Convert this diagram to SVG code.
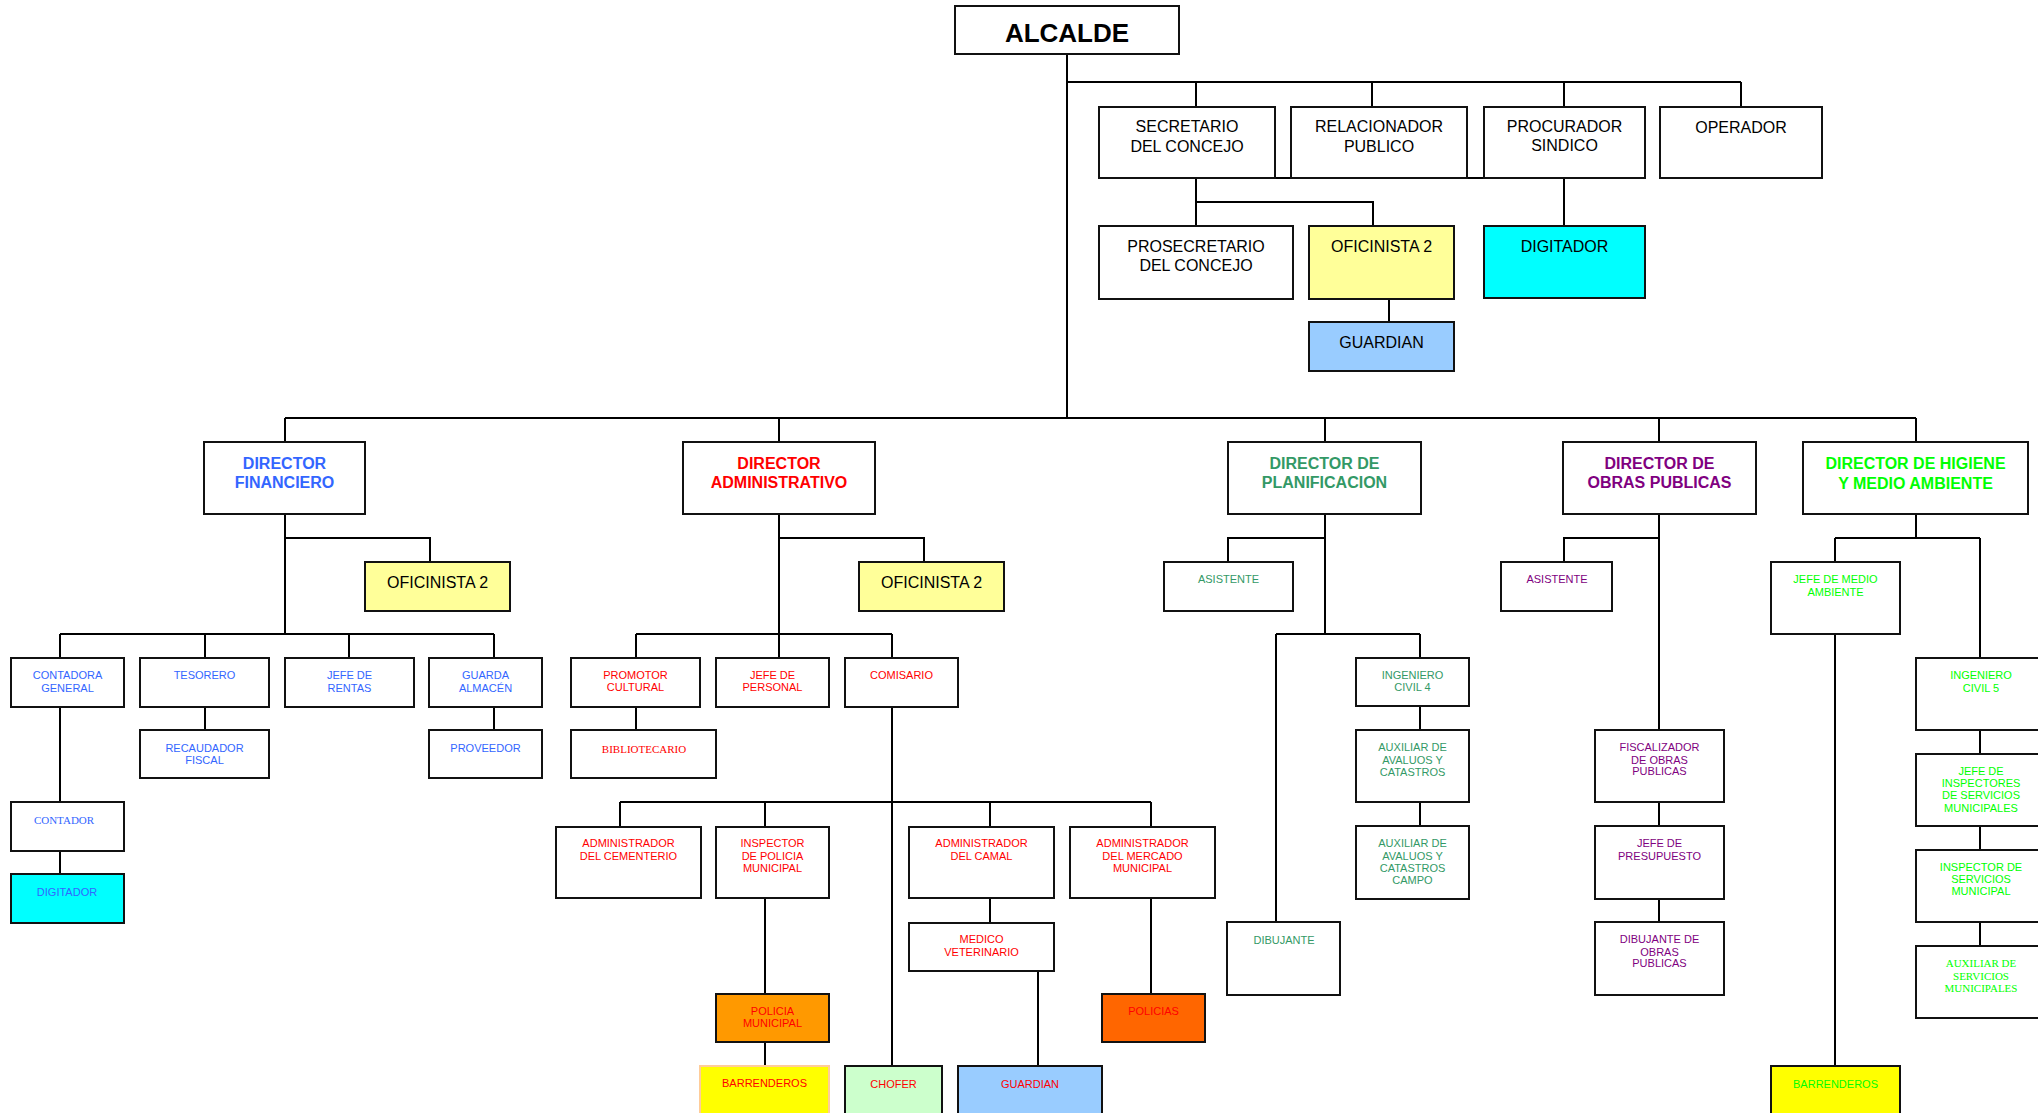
<svg xmlns="http://www.w3.org/2000/svg" width="2038" height="1113" viewBox="0 0 2038 1113">
<style>
rect{stroke:#111;stroke-width:2;fill:#fff}
.y{fill:#FFFF99}.c{fill:#00FFFF}.lb{fill:#99CCFF}.or{fill:#FF9900}.dor{fill:#FF6600}.ye{fill:#FFFF00}.lg{fill:#CCFFCC}
text{font-family:"Liberation Sans",Arial,sans-serif;text-anchor:middle}
.t{font-size:16px;fill:#000}
.d{font-size:16px;font-weight:bold}
.s{font-size:11px}
.sr{font-family:"Liberation Serif","Times New Roman",serif;font-size:11px}
.fin{fill:#3366FF}.adm{fill:#FF0000}.pla{fill:#339966}.obr{fill:#800080}.hig{fill:#00FF00}
#connectors path{stroke:#000;stroke-width:2;fill:none}
</style>
<rect x="0" y="0" width="2038" height="1113" style="fill:#fff;stroke:none"/>
<g id="connectors">
<path d="M1067 54V418M1067 82H1741M1196 82V107M1372 82V107M1564 82V107M1741 82V107M1275 178H1484M1196 178V226M1196 202H1373V226M1389 299V322M1564 178V226"/>
<path d="M285 418H1916M285 418V442M779 418V442M1325 418V442M1659 418V442M1916 418V442"/>
<path d="M285 514V634M285 538H430V562M60 634H494M60 634V658M205 634V658M349 634V658M494 634V658M205 707V730M494 707V730M60 707V802M60 851V874"/>
<path d="M779 514V634M779 538H924V562M636 634H892M636 634V658M779 634V658M892 634V658M636 707V730M892 707V1066M620 802H1151M620 802V827M765 802V827M990 802V827M1151 802V827M765 898V994M765 1042V1066M990 898V923M1038 971V1066M1151 898V994"/>
<path d="M1325 514V634M1325 538H1228V562M1276 634H1420M1276 634V922M1420 634V658M1420 706V730M1420 802V826"/>
<path d="M1659 514V730M1659 538H1564V562M1659 802V826M1659 899V922"/>
<path d="M1916 514V538M1835 538H1980M1835 538V562M1980 538V658M1835 634V1066M1980 730V754M1980 826V850M1980 922V946"/>
</g>
<g id="alcalde"><rect x="955" y="6" width="224" height="48"/><text x="1067" y="42" style="font-size:26px;font-weight:bold">ALCALDE</text></g>
<g id="secretario"><rect x="1099" y="107" width="176" height="71"/><text class="t" x="1187" y="132">SECRETARIO</text><text class="t" x="1187" y="152">DEL CONCEJO</text></g>
<g id="relacionador"><rect x="1291" y="107" width="176" height="71"/><text class="t" x="1379" y="132">RELACIONADOR</text><text class="t" x="1379" y="152">PUBLICO</text></g>
<g id="procurador"><rect x="1484" y="107" width="161" height="71"/><text class="t" x="1564.5" y="132">PROCURADOR</text><text class="t" x="1564.5" y="151">SINDICO</text></g>
<g id="operador"><rect x="1660" y="107" width="162" height="71"/><text class="t" x="1741" y="133">OPERADOR</text></g>
<g id="prosecretario"><rect x="1099" y="226" width="194" height="73"/><text class="t" x="1196" y="252">PROSECRETARIO</text><text class="t" x="1196" y="271">DEL CONCEJO</text></g>
<g id="oficinista-sec"><rect class="y" x="1309" y="226" width="145" height="73"/><text class="t" x="1381.5" y="252">OFICINISTA 2</text></g>
<g id="guardian-sec"><rect class="lb" x="1309" y="322" width="145" height="49"/><text class="t" x="1381.5" y="348">GUARDIAN</text></g>
<g id="digitador-proc"><rect class="c" x="1484" y="226" width="161" height="72"/><text class="t" x="1564.5" y="252">DIGITADOR</text></g>

<g id="dir-financiero"><rect x="204" y="442" width="161" height="72"/><text class="d fin" x="284.5" y="469">DIRECTOR</text><text class="d fin" x="284.5" y="488">FINANCIERO</text></g>
<g id="dir-administrativo"><rect x="683" y="442" width="192" height="72"/><text class="d adm" x="779" y="469">DIRECTOR</text><text class="d adm" x="779" y="488">ADMINISTRATIVO</text></g>
<g id="dir-planificacion"><rect x="1228" y="442" width="193" height="72"/><text class="d pla" x="1324.5" y="469">DIRECTOR DE</text><text class="d pla" x="1324.5" y="488">PLANIFICACION</text></g>
<g id="dir-obras"><rect x="1563" y="442" width="193" height="72"/><text class="d obr" x="1659.5" y="469">DIRECTOR DE</text><text class="d obr" x="1659.5" y="488">OBRAS PUBLICAS</text></g>
<g id="dir-higiene"><rect x="1803" y="442" width="225" height="72"/><text class="d hig" x="1915.5" y="469">DIRECTOR DE HIGIENE</text><text class="d hig" x="1915.5" y="489">Y MEDIO AMBIENTE</text></g>

<g id="oficinista-fin"><rect class="y" x="365" y="562" width="145" height="49"/><text class="t" x="437.5" y="588">OFICINISTA 2</text></g>
<g id="contadora"><rect x="11" y="658" width="113" height="49"/><text class="s fin" x="67.5" y="679">CONTADORA</text><text class="s fin" x="67.5" y="692">GENERAL</text></g>
<g id="tesorero"><rect x="140" y="658" width="129" height="49"/><text class="s fin" x="204.5" y="679">TESORERO</text></g>
<g id="jefe-rentas"><rect x="285" y="658" width="129" height="49"/><text class="s fin" x="349.5" y="679">JEFE DE</text><text class="s fin" x="349.5" y="692">RENTAS</text></g>
<g id="guarda-almacen"><rect x="429" y="658" width="113" height="49"/><text class="s fin" x="485.5" y="679">GUARDA</text><text class="s fin" x="485.5" y="692">ALMACÉN</text></g>
<g id="recaudador"><rect x="140" y="730" width="129" height="48"/><text class="s fin" x="204.5" y="752">RECAUDADOR</text><text class="s fin" x="204.5" y="764">FISCAL</text></g>
<g id="proveedor"><rect x="429" y="730" width="113" height="48"/><text class="s fin" x="485.5" y="752">PROVEEDOR</text></g>
<g id="contador"><rect x="11" y="802" width="113" height="49"/><text class="sr fin" x="64" y="824">CONTADOR</text></g>
<g id="digitador-fin"><rect class="c" x="11" y="874" width="113" height="49"/><text class="s fin" x="67" y="896">DIGITADOR</text></g>

<g id="oficinista-adm"><rect class="y" x="859" y="562" width="145" height="49"/><text class="t" x="931.5" y="588">OFICINISTA 2</text></g>
<g id="promotor"><rect x="571" y="658" width="129" height="49"/><text class="s adm" x="635.5" y="679">PROMOTOR</text><text class="s adm" x="635.5" y="691">CULTURAL</text></g>
<g id="jefe-personal"><rect x="716" y="658" width="113" height="49"/><text class="s adm" x="772.5" y="679">JEFE DE</text><text class="s adm" x="772.5" y="691">PERSONAL</text></g>
<g id="comisario"><rect x="845" y="658" width="113" height="49"/><text class="s adm" x="901.5" y="679">COMISARIO</text></g>
<g id="bibliotecario"><rect x="571" y="730" width="145" height="48"/><text class="sr adm" x="644" y="753">BIBLIOTECARIO</text></g>
<g id="adm-cementerio"><rect x="556" y="827" width="145" height="71"/><text class="s adm" x="628.5" y="847">ADMINISTRADOR</text><text class="s adm" x="628.5" y="860">DEL CEMENTERIO</text></g>
<g id="inspector-policia"><rect x="716" y="827" width="113" height="71"/><text class="s adm" x="772.5" y="847">INSPECTOR</text><text class="s adm" x="772.5" y="859.5">DE POLICIA</text><text class="s adm" x="772.5" y="872">MUNICIPAL</text></g>
<g id="adm-camal"><rect x="909" y="827" width="145" height="71"/><text class="s adm" x="981.5" y="847">ADMINISTRADOR</text><text class="s adm" x="981.5" y="860">DEL CAMAL</text></g>
<g id="adm-mercado"><rect x="1070" y="827" width="145" height="71"/><text class="s adm" x="1142.5" y="847">ADMINISTRADOR</text><text class="s adm" x="1142.5" y="859.5">DEL MERCADO</text><text class="s adm" x="1142.5" y="872">MUNICIPAL</text></g>
<g id="medico"><rect x="909" y="923" width="145" height="48"/><text class="s adm" x="981.5" y="943">MEDICO</text><text class="s adm" x="981.5" y="956">VETERINARIO</text></g>
<g id="policia-municipal"><rect class="or" x="716" y="994" width="113" height="48"/><text class="s adm" x="772.5" y="1015">POLICIA</text><text class="s adm" x="772.5" y="1027">MUNICIPAL</text></g>
<g id="policias"><rect class="dor" x="1102" y="994" width="103" height="48"/><text class="s adm" x="1153.5" y="1015">POLICIAS</text></g>
<g id="barrenderos-adm"><rect class="ye" x="700" y="1066" width="129" height="60" style="stroke:#FFCC99"/><text class="s adm" x="764.5" y="1087">BARRENDEROS</text></g>
<g id="chofer"><rect class="lg" x="845" y="1066" width="97" height="60"/><text class="s adm" x="893.5" y="1088">CHOFER</text></g>
<g id="guardian-adm"><rect class="lb" x="958" y="1066" width="144" height="60"/><text class="s adm" x="1030" y="1088">GUARDIAN</text></g>

<g id="asistente-pla"><rect x="1164" y="562" width="129" height="49"/><text class="s pla" x="1228.5" y="583">ASISTENTE</text></g>
<g id="ingeniero-4"><rect x="1356" y="658" width="113" height="48"/><text class="s pla" x="1412.5" y="679">INGENIERO</text><text class="s pla" x="1412.5" y="691">CIVIL 4</text></g>
<g id="aux-catastros"><rect x="1356" y="730" width="113" height="72"/><text class="s pla" x="1412.5" y="751">AUXILIAR DE</text><text class="s pla" x="1412.5" y="764">AVALUOS Y</text><text class="s pla" x="1412.5" y="776">CATASTROS</text></g>
<g id="aux-campo"><rect x="1356" y="826" width="113" height="73"/><text class="s pla" x="1412.5" y="847">AUXILIAR DE</text><text class="s pla" x="1412.5" y="860">AVALUOS Y</text><text class="s pla" x="1412.5" y="872">CATASTROS</text><text class="s pla" x="1412.5" y="884">CAMPO</text></g>
<g id="dibujante"><rect x="1227" y="922" width="113" height="73"/><text class="s pla" x="1284" y="944">DIBUJANTE</text></g>

<g id="asistente-obr"><rect x="1501" y="562" width="111" height="49"/><text class="s obr" x="1557" y="583">ASISTENTE</text></g>
<g id="fiscalizador"><rect x="1595" y="730" width="129" height="72"/><text class="s obr" x="1659.5" y="751">FISCALIZADOR</text><text class="s obr" x="1659.5" y="764">DE OBRAS</text><text class="s obr" x="1659.5" y="775">PUBLICAS</text></g>
<g id="presupuesto"><rect x="1595" y="826" width="129" height="73"/><text class="s obr" x="1659.5" y="847">JEFE DE</text><text class="s obr" x="1659.5" y="860">PRESUPUESTO</text></g>
<g id="dibujante-obras"><rect x="1595" y="922" width="129" height="73"/><text class="s obr" x="1659.5" y="943">DIBUJANTE DE</text><text class="s obr" x="1659.5" y="956">OBRAS</text><text class="s obr" x="1659.5" y="967">PUBLICAS</text></g>

<g id="jefe-medio-ambiente"><rect x="1771" y="562" width="129" height="72"/><text class="s hig" x="1835.5" y="583">JEFE DE MEDIO</text><text class="s hig" x="1835.5" y="596">AMBIENTE</text></g>
<g id="ingeniero-5"><rect x="1916" y="658" width="130" height="72"/><text class="s hig" x="1981" y="679">INGENIERO</text><text class="s hig" x="1981" y="692">CIVIL 5</text></g>
<g id="jefe-inspectores"><rect x="1916" y="754" width="130" height="72"/><text class="s hig" x="1981" y="775">JEFE DE</text><text class="s hig" x="1981" y="787">INSPECTORES</text><text class="s hig" x="1981" y="799">DE SERVICIOS</text><text class="s hig" x="1981" y="812">MUNICIPALES</text></g>
<g id="inspector-servicios"><rect x="1916" y="850" width="130" height="72"/><text class="s hig" x="1981" y="871">INSPECTOR DE</text><text class="s hig" x="1981" y="883">SERVICIOS</text><text class="s hig" x="1981" y="895">MUNICIPAL</text></g>
<g id="aux-servicios"><rect x="1916" y="946" width="130" height="72"/><text class="sr hig" x="1981" y="967">AUXILIAR DE</text><text class="sr hig" x="1981" y="980">SERVICIOS</text><text class="sr hig" x="1981" y="992">MUNICIPALES</text></g>
<g id="barrenderos-hig"><rect class="ye" x="1771" y="1066" width="129" height="60"/><text class="s hig" x="1835.5" y="1088">BARRENDEROS</text></g>
</svg>
